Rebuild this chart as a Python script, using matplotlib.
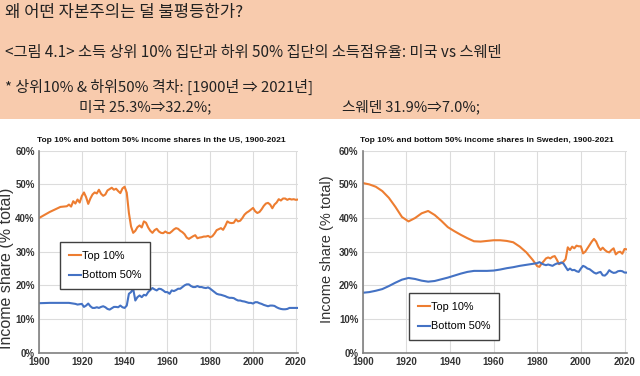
import matplotlib
matplotlib.use("Agg")
import matplotlib.pyplot as plt
from matplotlib.patches import Rectangle
from matplotlib.ticker import FuncFormatter

plt.rcParams['font.family'] = ['Noto Sans CJK KR', 'DejaVu Sans']

# ---- data ----
us_years = [1900, 1905, 1910] + list(range(1913, 2022))
us_top10 = [40.0, 41.8, 43.3,
            43.5, 44.0, 43.4, 45.0, 44.3, 45.5, 44.6,
            46.5, 47.6, 46.2, 44.2, 45.8, 47.0, 47.6, 47.3, 48.4, 47.2,
            46.6, 47.0, 48.2, 48.6, 49.0, 48.4, 48.7, 48.0, 47.4, 48.8,
            49.3, 47.5, 41.5, 37.5, 35.6, 36.2, 37.3, 37.8, 37.2, 39.0,
            38.6, 37.2, 36.2, 35.6, 36.4, 36.8, 36.0, 35.6, 35.5, 36.0,
            35.6, 35.5, 36.0, 36.6, 37.0, 36.8, 36.2, 35.8, 35.2, 34.2,
            33.8, 34.2, 34.6, 34.9, 34.0, 34.2, 34.3, 34.5, 34.5, 34.7,
            34.3, 34.6, 35.4, 36.4, 36.7, 37.0, 36.5, 37.6, 39.0, 38.6,
            38.5, 38.6, 39.6, 39.0, 39.2, 40.0, 41.0, 41.6, 42.0, 42.5,
            43.0, 42.0, 41.5, 41.8, 42.6, 43.6, 44.3, 44.5, 44.0, 42.9,
            44.0, 44.6, 45.6, 45.2, 45.8, 45.8, 45.4, 45.7, 45.5, 45.6,
            45.4, 45.5]
us_bot50 = [14.7, 14.8, 14.8,
            14.8, 14.8, 14.7, 14.6, 14.5, 14.3, 14.4,
            14.5, 13.6, 14.0, 14.6, 13.8, 13.3, 13.3, 13.5, 13.3, 13.6,
            13.8, 13.5, 13.0, 12.8, 13.2, 13.6, 13.6, 13.5, 14.0, 13.5,
            13.3, 14.0, 17.5, 18.0, 19.0, 15.5, 16.5, 17.0, 16.5, 17.2,
            17.0, 18.0, 18.6, 19.2, 18.8, 18.5, 19.0, 18.9, 18.5, 18.0,
            18.0, 17.5, 18.5, 18.3, 18.6, 19.0, 19.0, 19.5, 20.0, 20.3,
            20.3, 19.8, 19.5, 19.5, 19.8, 19.5, 19.5, 19.3, 19.2, 19.4,
            19.0, 18.5, 18.0, 17.5, 17.3, 17.2, 17.0, 16.8, 16.5, 16.3,
            16.3, 16.2, 15.8, 15.5, 15.5, 15.3, 15.2, 15.0, 14.8, 14.8,
            14.6, 15.0, 15.0, 14.7, 14.5, 14.2, 14.0, 13.8, 14.0, 14.0,
            13.9, 13.5, 13.2, 13.0, 12.9, 12.9, 13.0, 13.3, 13.3, 13.3,
            13.3, 13.3]

se_years = list(range(1900, 1979, 3)) + list(range(1980, 2022))
se_top10 = [50.4, 50.0, 49.3, 48.0, 46.0, 43.3, 40.3, 39.0, 40.0, 41.4,
            42.1, 40.9, 39.2, 37.3, 36.1, 35.0, 34.0, 33.1, 33.0, 33.2,
            33.4, 33.4, 33.2, 32.8, 31.5, 29.8, 27.5,
            25.7, 25.5, 26.5, 27.2, 28.0, 28.3, 28.0, 28.5, 28.7, 27.6,
            26.3, 26.6, 27.0, 27.8, 31.3, 30.5, 31.5, 31.0, 31.8, 31.6,
            31.6, 29.5, 30.0, 31.0, 32.0, 33.0, 33.8, 33.0, 31.5, 30.5,
            31.2, 30.5, 30.0, 29.8, 30.5, 31.0, 29.2, 29.8, 30.0, 29.4,
            30.8, 30.7]
se_bot50 = [17.8, 18.0, 18.4, 18.9, 19.8, 20.8, 21.7, 22.2, 21.9, 21.4,
            21.1, 21.3, 21.8, 22.3, 22.9, 23.5, 24.0, 24.3, 24.3, 24.3,
            24.4, 24.7, 25.1, 25.4, 25.8, 26.1, 26.4,
            26.6, 26.9, 26.5, 26.2, 26.0, 26.2, 26.0, 25.8, 26.2, 26.5,
            26.5, 26.8, 26.5, 25.5, 24.5, 25.0, 24.5, 24.6, 24.2, 24.0,
            25.0, 25.8, 25.5, 25.0, 24.8, 24.3, 23.8, 23.5, 23.8, 24.0,
            23.0, 22.9, 23.5, 24.5, 24.0, 23.7, 23.8, 24.2, 24.3, 24.2,
            23.8, 23.8]

series_labels = ["Top 10%", "Bottom 50%"]
titles = ["Top 10% and bottom 50% income shares in the US, 1900-2021",
          "Top 10% and bottom 50% income shares in Sweden, 1900-2021"]
header_lines = ["왜 어떤 자본주의는 덜 불평등한가?",
                "<그림 4.1> 소득 상위 10% 집단과 하위 50% 집단의 소득점유율: 미국 vs 스웨덴",
                "* 상위10% & 하위50% 격차: [1900년 ⇒ 2021년]"]
gap_us = "미국 25.3%⇒32.2%;"
gap_se = "스웨덴 31.9%⇒7.0%;"

ORANGE = "#ED7D31"
BLUE = "#4472C4"
ARIAL = ['Liberation Sans', 'DejaVu Sans']

fig = plt.figure(figsize=(6.4, 3.76), dpi=100)
fig.patches.append(Rectangle((0, 1 - 119 / 376), 1, 119 / 376, transform=fig.transFigure,
                             facecolor="#F8CBAD", edgecolor="none", zorder=0))

txt = "#222222"
fig.text(5 / 640, 1 - 13 / 376, header_lines[0], fontsize=12, color=txt, va="center")
fig.text(5 / 640, 1 - 53 / 376, header_lines[1], fontsize=11, color=txt, va="center")
fig.text(5 / 640, 1 - 87 / 376, header_lines[2], fontsize=10.8, color=txt, va="center")
fig.text(79 / 640, 1 - 107 / 376, gap_us, fontsize=10.5, color=txt, va="center")
fig.text(342 / 640, 1 - 107 / 376, gap_se, fontsize=10.5, color=txt, va="center")


def draw(rect, years, top, bot, title, title_x, ylab_x, ylab_y, ylab_size, leg_xy):
    ax = fig.add_axes(rect)
    ax.plot(years, top, color=ORANGE, lw=1.5, label=series_labels[0])
    ax.plot(years, bot, color=BLUE, lw=1.5, label=series_labels[1])
    ax.set_xlim(1900, 2021)
    ax.set_ylim(0, 60)
    ax.set_xticks(range(1900, 2021, 20))
    ax.set_yticks(range(0, 61, 10))
    ax.yaxis.set_major_formatter(FuncFormatter(lambda v, p: f"{v:.0f}%"))
    ax.grid(True, color="#DCDCDC", lw=0.8)
    ax.set_axisbelow(True)
    for s in ["top", "right"]:
        ax.spines[s].set_visible(False)
    for s in ["left", "bottom"]:
        ax.spines[s].set_color("#808080")
        ax.spines[s].set_linewidth(1.2)
    ax.tick_params(length=0, pad=3)
    for lab in ax.get_xticklabels() + ax.get_yticklabels():
        lab.set_family(ARIAL)
        lab.set_fontweight("bold")
        lab.set_fontsize(7)
        lab.set_color("#333333")
    fig.text(title_x, 1 - 141 / 376, title, fontsize=6, fontweight="bold",
             family=ARIAL, ha="center", va="center", color="#111111")
    fig.text(ylab_x, ylab_y, "Income share (% total)", rotation=90, fontsize=ylab_size,
             family=ARIAL, ha="center", va="center", color="#333333")
    leg = ax.legend(loc="upper left", bbox_to_anchor=leg_xy, bbox_transform=fig.transFigure,
                    fancybox=False, framealpha=1, edgecolor="#404040",
                    prop={'family': ARIAL, 'size': 7.8}, handlelength=1.1,
                    handletextpad=0.15, labelspacing=0.9, borderpad=0.8,
                    borderaxespad=0)
    leg.get_frame().set_linewidth(1.0)
    return ax


draw([39 / 640, 1 - 352.7 / 376, 259 / 640, 202 / 376], us_years, us_top10, us_bot50,
     titles[0], 161.5 / 640, 7 / 640, 1 - 268 / 376, 11.5, (60 / 640, 1 - 242 / 376))
draw([362.7 / 640, 1 - 352.7 / 376, 264 / 640, 202 / 376], se_years, se_top10, se_bot50,
     titles[1], 487 / 640, 327 / 640, 1 - 249 / 376, 10.5, (409 / 640, 1 - 293 / 376))

fig.savefig("out.png", dpi=100)
